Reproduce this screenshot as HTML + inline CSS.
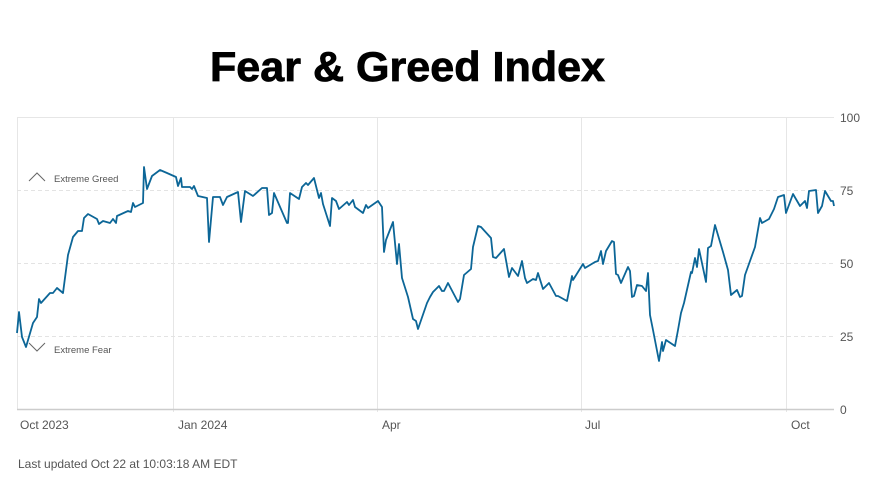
<!DOCTYPE html>
<html><head><meta charset="utf-8"><style>
body{margin:0;width:873px;height:490px;background:#fff;overflow:hidden;font-family:"Liberation Sans",sans-serif}
</style></head><body>
<svg width="873" height="490" xmlns="http://www.w3.org/2000/svg" font-family="Liberation Sans, sans-serif">
<text x="210" y="81" font-size="42" font-weight="bold" fill="#000" stroke="#000" stroke-width="0.8" textLength="395" lengthAdjust="spacingAndGlyphs">Fear &amp; Greed Index</text>
<g stroke="#e6e6e6" stroke-width="1">
<line x1="17" y1="117.5" x2="834" y2="117.5"/>
<line x1="17.5" y1="117" x2="17.5" y2="409"/>
<line x1="173.5" y1="117" x2="173.5" y2="412"/>
<line x1="377.5" y1="117" x2="377.5" y2="412"/>
<line x1="581.5" y1="117" x2="581.5" y2="412"/>
<line x1="786.5" y1="117" x2="786.5" y2="412"/>
</g>
<g stroke="#e3e3e3" stroke-width="1" stroke-dasharray="4,3">
<line x1="17" y1="190.5" x2="834" y2="190.5"/>
<line x1="17" y1="263.5" x2="834" y2="263.5"/>
<line x1="17" y1="336.5" x2="834" y2="336.5"/>
</g>
<line x1="17" y1="409.5" x2="834" y2="409.5" stroke="#ccc" stroke-width="1.5"/>
<g font-size="12" fill="#555">
<text x="840" y="122">100</text><text x="840" y="195">75</text><text x="840" y="268">50</text><text x="840" y="341">25</text><text x="840" y="414">0</text>
<text x="20" y="429">Oct 2023</text><text x="178" y="429">Jan 2024</text><text x="382" y="429">Apr</text><text x="585" y="429">Jul</text><text x="791" y="429">Oct</text>
<text x="18" y="468">Last updated Oct 22 at 10:03:18 AM EDT</text>
</g>
<g font-size="9.5" fill="#555">
<text x="54" y="182">Extreme Greed</text><text x="54" y="353">Extreme Fear</text>
</g>
<polyline points="29,181 37,173 45,181" fill="none" stroke="#666" stroke-width="1"/>
<polyline points="29,343 37,351 45,343" fill="none" stroke="#666" stroke-width="1"/>
<polyline fill="none" stroke="#0c6697" stroke-width="1.8" stroke-linejoin="round" points="17,333 19,312 22,337 26,347 33,323 37,317 39,299 41,303 50,293 53,293 57,288 63,293 68,255 73,237 78,231 82,231 84,218 88,214 97,219 99,224 103,221 110,223 113,219 116,223 117,216 128,211 131,212 133,203 135,207 143,203 144,167 147,189 152,176 160,170 167,173 176,177 178,186 181,178 182,187 190,187 192,189 194,186 198,196 207,198 209,242 213,197 220,197 223,205 227,197 238,192 241,222 245,191 253,196 262,188 267,188 269,215 272,213 274,193 287,223 288,223 290,193 299,199 302,187 306,183 308,185 314,178 319,198 321,193 323,204 330,226 332,198 336,201 339,209 347,202 349,205 353,200 355,207 363,213 366,205 368,208 378,201 382,207 384,252 386,240 393,222 397,264 399,244 402,278 408,297 413,319 416,321 418,329 427,303 430,297 433,292 439,286 442,291 444,291 448,283 458,302 460,299 464,275 471,269 473,247 478,226 481,227 491,238 493,257 496,258 504,249 509,277 512,268 518,276 522,261 525,278 527,283 533,279 536,280 538,273 543,289 549,283 556,296 558,296 567,301 572,276 573,280 583,264 585,268 595,262 598,261 601,251 603,264 606,251 612,241 614,242 616,274 618,275 621,283 628,267 630,271 632,297 634,296 637,285 642,286 646,291 648,273 650,315 653,330 659,361 662,342 663,351 666,340 675,346 678,330 681,313 684,303 691,272 692,273 695,258 697,267 699,249 706,282 708,248 711,246 715,225 723,252 728,270 731,295 737,290 740,297 742,296 745,275 755,247 760,218 762,223 769,219 774,209 778,197 784,195 786,213 793,194 800,206 805,201 807,208 809,191 816,190 818,213 822,206 825,191 831,201 833,201 834,206"/>
</svg>
</body></html>
